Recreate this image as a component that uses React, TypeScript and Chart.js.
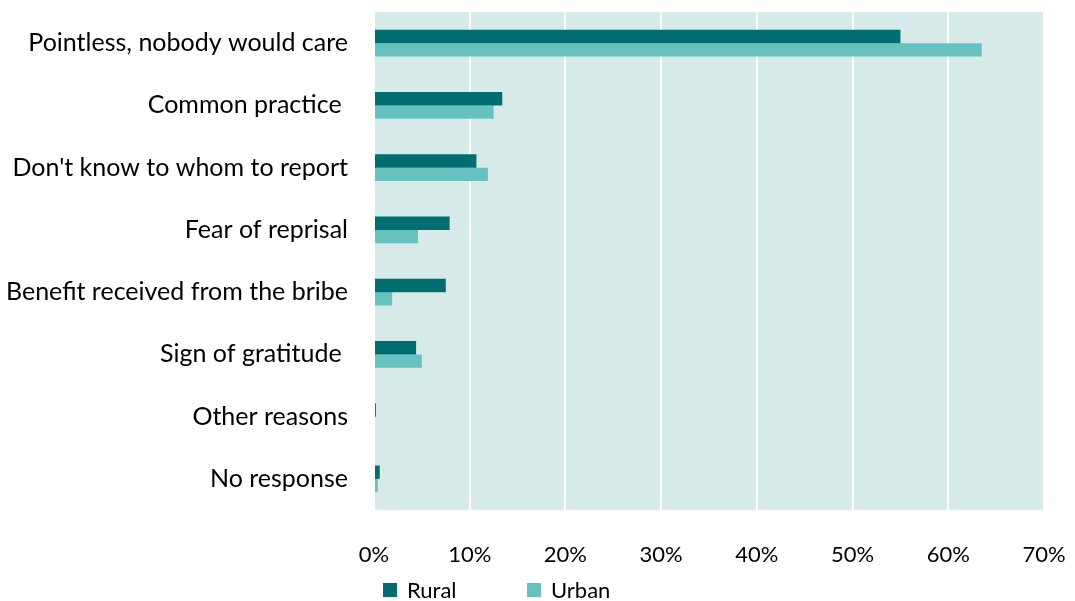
import React, { useEffect, useRef } from "react";
import { Chart, registerables } from "chart.js";

Chart.register(...registerables);

const categories = [
  "Pointless, nobody would care",
  "Common practice ",
  "Don't know to whom to report",
  "Fear of reprisal",
  "Benefit received from the bribe",
  "Sign of gratitude ",
  "Other reasons",
  "No response",
];
const seriesNames = ["Rural", "Urban"];
const rural = [55.0, 13.4, 10.7, 7.9, 7.5, 4.4, 0.2, 0.6];
const urban = [63.5, 12.5, 11.9, 4.6, 1.9, 5.0, 0, 0.4];
const xMin = 0;
const xMax = 70;
const xStep = 10;

const RURAL_COLOR = "#006e70";
const URBAN_COLOR = "#66c2bf";
const PLOT_BG = "#d6ebe9";
const FONT = "Lato, 'Open Sans', sans-serif";

export default function App() {
  const ref = useRef<HTMLCanvasElement | null>(null);

  useEffect(() => {
    document.body.style.margin = "0";
    const canvas = ref.current;
    if (!canvas) return;

    const bgPlugin = {
      id: "plotBg",
      beforeDraw(chart: any) {
        const { ctx, chartArea } = chart;
        ctx.save();
        ctx.fillStyle = PLOT_BG;
        ctx.fillRect(chartArea.left, chartArea.top, chartArea.right - chartArea.left, chartArea.bottom - chartArea.top);
        ctx.restore();
      },
    };

    const legendPlugin = {
      id: "customLegend",
      afterDraw(chart: any) {
        const { ctx, chartArea } = chart;
        ctx.save();
        ctx.font = `22px ${FONT}`;
        ctx.textBaseline = "middle";
        let x = chartArea.left + 9;
        const y = chartArea.bottom + 80;
        chart.data.datasets.forEach((ds: any) => {
          ctx.fillStyle = ds.backgroundColor;
          ctx.fillRect(x, y - 7, 14, 14);
          ctx.fillStyle = "#000";
          ctx.fillText(ds.label, x + 24, y + 1);
          x += 144;
        });
        ctx.restore();
      },
    };

    const chart = new Chart(canvas, {
      type: "bar",
      data: {
        labels: categories,
        datasets: [
          { label: seriesNames[0], data: rural, backgroundColor: RURAL_COLOR, barPercentage: 1, categoryPercentage: 0.43 },
          { label: seriesNames[1], data: urban, backgroundColor: URBAN_COLOR, barPercentage: 1, categoryPercentage: 0.43 },
        ],
      },
      options: {
        indexAxis: "y",
        animation: false,
        responsive: false,
        maintainAspectRatio: false,
        layout: { padding: { top: 12, right: 31, left: 0, bottom: 0 } },
        plugins: {
          legend: { display: false },
          tooltip: { enabled: false },
        },
        scales: {
          x: {
            min: xMin,
            max: xMax,
            ticks: {
              stepSize: xStep,
              padding: 32,
              color: "#000",
              font: { family: FONT, size: 22 },
              callback: (v: any) => `${v}%`,
            },
            grid: { color: "#ffffff", lineWidth: 2, drawTicks: false },
            border: { display: false },
            afterFit: (scale: any) => {
              scale.height = 91;
              scale.paddingLeft = 0;
              scale.paddingRight = 0;
            },
          },
          y: {
            ticks: {
              padding: 26,
              color: "#000",
              font: { family: FONT, size: 25 },
              autoSkip: false,
            },
            grid: { display: false, drawTicks: false },
            border: { display: false },
            afterFit: (scale: any) => {
              scale.width = 374;
              scale.paddingTop = 0;
              scale.paddingBottom = 0;
            },
          },
        },
      },
      plugins: [bgPlugin, legendPlugin],
    });

    return () => chart.destroy();
  }, []);

  return (
    <div style={{ position: "absolute", left: 0, top: 0, width: 1075, height: 601, background: "#fff" }}>
      <canvas ref={ref} width={1075} height={601} style={{ width: 1075, height: 601 }} />
    </div>
  );
}
